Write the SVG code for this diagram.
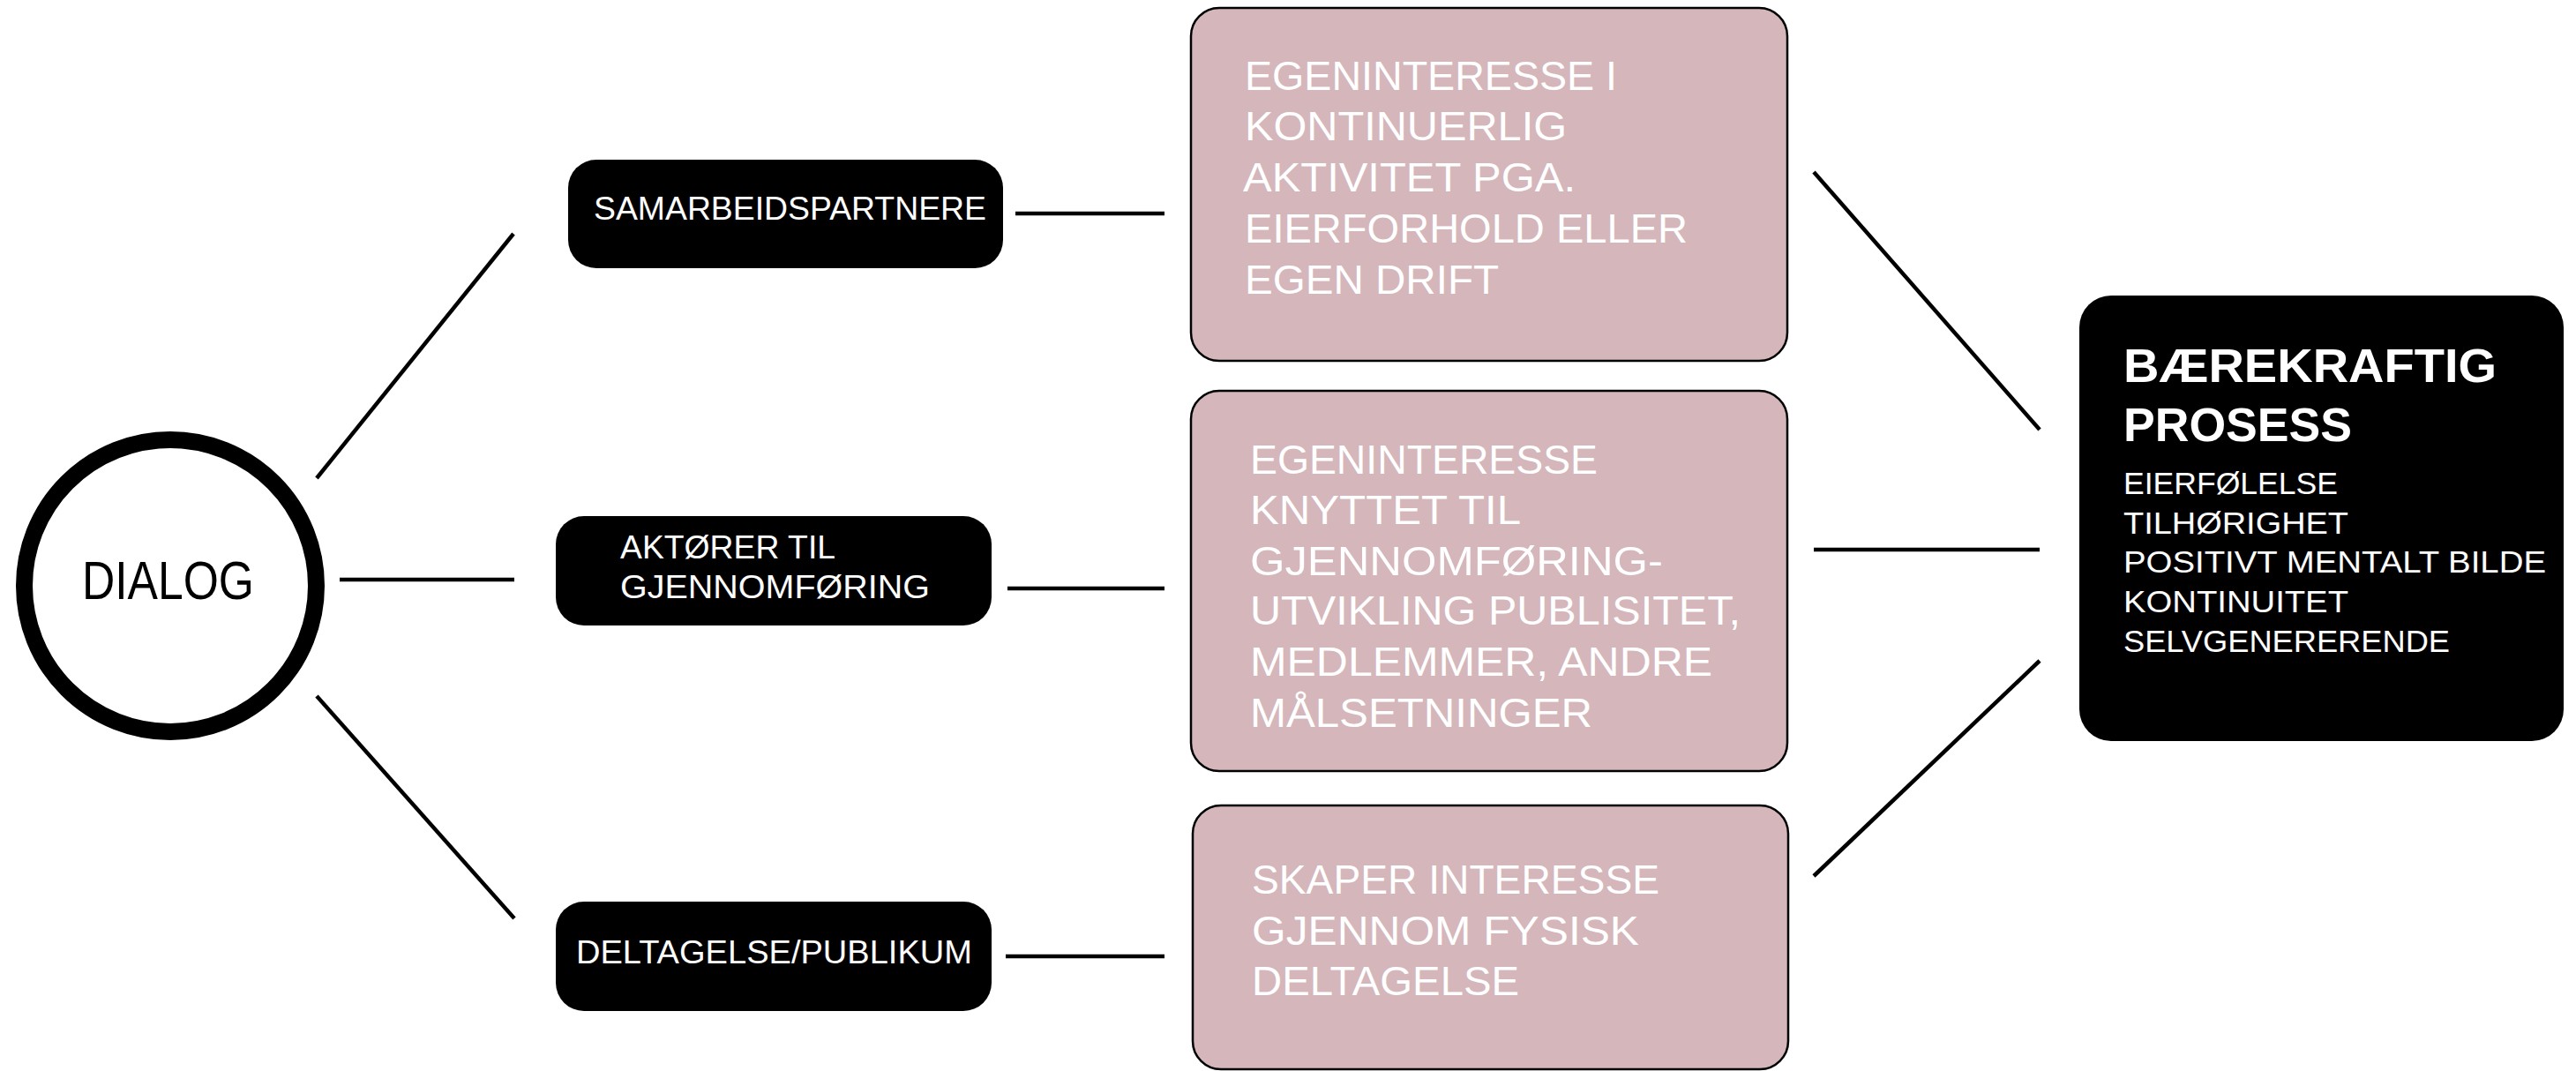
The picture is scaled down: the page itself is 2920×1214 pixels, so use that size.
<svg xmlns="http://www.w3.org/2000/svg" width="2920" height="1214" viewBox="0 0 2920 1214">
<style>
.t{font-family:"Liberation Sans",Arial,sans-serif;}
.w{fill:#ffffff;}
.blk{fill:#000000;}
.pink{fill:#D4B6BB;stroke:#000;stroke-width:2.5;}
.con line{stroke:#000;stroke-width:4.5;stroke-linecap:butt;}
.s36{font-size:36px;}
.s46{font-size:46px;}
.s35{font-size:35px;}
</style>
<rect width="2920" height="1214" fill="#fff"/>
<g id="connectors" class="con">
<line x1="359" y1="542" x2="582" y2="265"/>
<line x1="385" y1="657" x2="583" y2="657"/>
<line x1="359" y1="789" x2="583" y2="1041"/>
<line x1="1151" y1="242" x2="1320" y2="242"/>
<line x1="1142" y1="667" x2="1320" y2="667"/>
<line x1="1140" y1="1084" x2="1320" y2="1084"/>
<line x1="2056" y1="195" x2="2312" y2="487"/>
<line x1="2056" y1="623" x2="2312" y2="623"/>
<line x1="2056" y1="993" x2="2312" y2="749"/>
</g>
<g id="dialog">
<circle cx="193" cy="664" r="165.5" fill="#fff" stroke="#000" stroke-width="19"/>
<text class="t" x="93" y="679" font-size="61" textLength="195" lengthAdjust="spacingAndGlyphs">DIALOG</text>
</g>
<g id="samarbeidspartnere">
<rect class="blk" x="644" y="181" width="493" height="123" rx="32"/>
<text class="t w s36" x="673" y="249" textLength="445" lengthAdjust="spacingAndGlyphs">SAMARBEIDSPARTNERE</text>
</g>
<g id="aktorer">
<rect class="blk" x="630" y="585" width="494" height="124" rx="32"/>
<text class="t w s36" x="703" y="633" textLength="244" lengthAdjust="spacingAndGlyphs">AKTØRER TIL</text>
<text class="t w s36" x="703" y="678" textLength="351" lengthAdjust="spacingAndGlyphs">GJENNOMFØRING</text>
</g>
<g id="deltagelse">
<rect class="blk" x="630" y="1022" width="494" height="124" rx="32"/>
<text class="t w s36" x="653" y="1092" textLength="449" lengthAdjust="spacingAndGlyphs">DELTAGELSE/PUBLIKUM</text>
</g>
<g id="egeninteresse1">
<rect class="pink" x="1350" y="9" width="676" height="400" rx="32"/>
<text class="t w s46" x="1411" y="102" textLength="422" lengthAdjust="spacingAndGlyphs">EGENINTERESSE I</text>
<text class="t w s46" x="1411" y="159" textLength="365" lengthAdjust="spacingAndGlyphs">KONTINUERLIG</text>
<text class="t w s46" x="1409" y="217" textLength="377" lengthAdjust="spacingAndGlyphs">AKTIVITET PGA.</text>
<text class="t w s46" x="1411" y="275" textLength="502" lengthAdjust="spacingAndGlyphs">EIERFORHOLD ELLER</text>
<text class="t w s46" x="1411" y="333" textLength="288" lengthAdjust="spacingAndGlyphs">EGEN DRIFT</text>
</g>
<g id="egeninteresse2">
<rect class="pink" x="1350" y="443" width="676" height="431" rx="32"/>
<text class="t w s46" x="1417" y="537" textLength="394" lengthAdjust="spacingAndGlyphs">EGENINTERESSE</text>
<text class="t w s46" x="1417" y="594" textLength="307" lengthAdjust="spacingAndGlyphs">KNYTTET TIL</text>
<text class="t w s46" x="1417" y="652" textLength="468" lengthAdjust="spacingAndGlyphs">GJENNOMFØRING-</text>
<text class="t w s46" x="1417" y="708" textLength="556" lengthAdjust="spacingAndGlyphs">UTVIKLING PUBLISITET,</text>
<text class="t w s46" x="1417" y="766" textLength="524" lengthAdjust="spacingAndGlyphs">MEDLEMMER, ANDRE</text>
<text class="t w s46" x="1417" y="824" textLength="388" lengthAdjust="spacingAndGlyphs">MÅLSETNINGER</text>
</g>
<g id="skaper">
<rect class="pink" x="1352" y="913" width="675" height="299" rx="32"/>
<text class="t w s46" x="1419" y="1013" textLength="462" lengthAdjust="spacingAndGlyphs">SKAPER INTERESSE</text>
<text class="t w s46" x="1419" y="1071" textLength="439" lengthAdjust="spacingAndGlyphs">GJENNOM FYSISK</text>
<text class="t w s46" x="1419" y="1128" textLength="303" lengthAdjust="spacingAndGlyphs">DELTAGELSE</text>
</g>
<g id="baerekraftig">
<rect class="blk" x="2357" y="335" width="549" height="505" rx="36"/>
<text class="t w" x="2407" y="433" font-size="54" font-weight="bold" textLength="423" lengthAdjust="spacingAndGlyphs">BÆREKRAFTIG</text>
<text class="t w" x="2407" y="500" font-size="54" font-weight="bold" textLength="259" lengthAdjust="spacingAndGlyphs">PROSESS</text>
<text class="t w s35" x="2407" y="560" textLength="243" lengthAdjust="spacingAndGlyphs">EIERFØLELSE</text>
<text class="t w s35" x="2407" y="605" textLength="255" lengthAdjust="spacingAndGlyphs">TILHØRIGHET</text>
<text class="t w s35" x="2407" y="649" textLength="479" lengthAdjust="spacingAndGlyphs">POSITIVT MENTALT BILDE</text>
<text class="t w s35" x="2407" y="694" textLength="255" lengthAdjust="spacingAndGlyphs">KONTINUITET</text>
<text class="t w s35" x="2407" y="739" textLength="370" lengthAdjust="spacingAndGlyphs">SELVGENERERENDE</text>
</g>
</svg>
